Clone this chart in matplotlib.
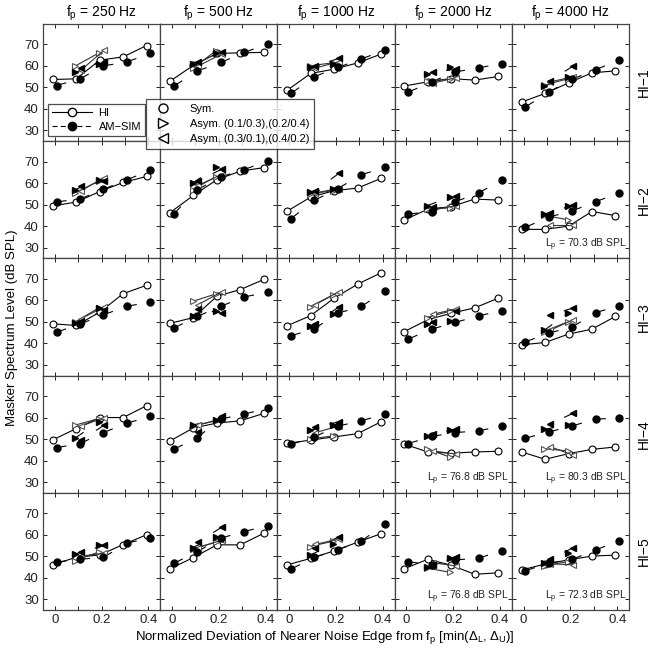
import matplotlib
matplotlib.use('Agg')
import matplotlib.pyplot as plt
from matplotlib.lines import Line2D

plt.rcParams['font.family'] = ['Liberation Sans', 'DejaVu Sans']
plt.rcParams['mathtext.fontset'] = 'custom'
plt.rcParams['mathtext.rm'] = 'Liberation Sans'

# --- data ---
freqs = ['250', '500', '1000', '2000', '4000']
listeners = ['HI\u22121', 'HI\u22122', 'HI\u22123', 'HI\u22124', 'HI\u22125']
x_sym = [0, 0.1, 0.2, 0.3, 0.4]
x_asym = [0.1, 0.2]

# symmetric notches, [listener][frequency] -> 5 values
hi_sym = [
    [[53.7, 54, 62.7, 64.2, 69.5], [52.9, 60.3, 65.8, 66.1, 66.3], [48.7, 56.5, 58.5, 61.4, 65.5], [50.7, 52.6, 54.1, 53.4, 55.1], [43.2, 47.2, 52.1, 56.8, 57.7]],
    [[49.4, 51.2, 56.1, 60.3, 63.1], [46.3, 54.3, 61.6, 65.6, 67.2], [47, 53.5, 56.5, 57.7, 62.2], [42.9, 47.9, 49.1, 52.6, 52.1], [38.5, 38.5, 40, 46.8, 44.9]],
    [[49.1, 48.3, 54.5, 63.1, 67], [49.3, 52, 61.9, 65, 69.7], [48.2, 52.9, 61, 67.5, 72.8], [45.5, 51, 54, 56.5, 61], [39.3, 40.4, 44.3, 46.6, 52.5]],
    [[49.6, 54.9, 60, 60, 65.5], [49.1, 55.2, 57.4, 58.5, 61.9], [48, 49.5, 51, 52.5, 58], [47.6, 44, 43.4, 44, 44.3], [44, 40.6, 43.2, 45.2, 46.3]],
    [[46.1, 49.5, 50.6, 55.4, 60], [44.2, 49.4, 55.3, 55.3, 60.7], [46, 49, 52.5, 56.5, 60.5], [44.2, 48.6, 45.8, 41.6, 42.3], [43.6, 46.4, 48.3, 50.1, 50.5]],
]
am_sym = [
    [[50.9, 54, 60, 61.9, 65.8], [50.6, 57.6, 61.6, 66.3, 70.1], [47.2, 55, 59.3, 63.3, 67.2], [47.8, 52.6, 57.2, 59.1, 61.1], [40.9, 47.9, 53.8, 58.3, 62.7]],
    [[51.3, 52.6, 57.2, 61.6, 65.9], [45.7, 56.9, 62.9, 66.3, 70.3], [43.5, 52, 57.5, 63.9, 67.3], [45.6, 46.8, 51.3, 55.4, 61.6], [39.5, 44.2, 47.1, 51.4, 55.4]],
    [[45.2, 49, 53.3, 57.2, 59.3], [47.1, 52.5, 57.2, 61.6, 63.7], [43.5, 46.8, 54, 57.2, 64.2], [42, 46.6, 49.7, 52.8, 55.2], [40.7, 44.8, 47.6, 54.3, 57.5]],
    [[46, 47.9, 53, 57.4, 60.5], [45.2, 50.7, 59.3, 61.6, 64.3], [47.5, 51, 56, 58.5, 61.5], [47.9, 51.2, 53, 53.8, 56.1], [50.4, 53.3, 56.1, 59.3, 59.7]],
    [[47.3, 48.6, 49.5, 56.1, 58.6], [46.7, 52.1, 58.4, 61.5, 64.2], [44, 49.5, 53, 57, 65], [47.5, 45.9, 48.3, 49.1, 52.5], [43.3, 46.7, 48.6, 52.9, 57.3]],
]

# asymmetric notches, [listener][frequency] -> values at 0.1, 0.2
hi_right = [
    [[60, 66], [59, 67], [60, 61.5], [53, 54], [51, 54]],
    [[55.5, 61], [57, 63], [55, 56.5], [48, 48.5], [45, 43]],
    [[50, 56.5], [59.5, 63], [57, 62.5], [52, 55], [45.5, 50]],
    [[56.5, 59.5], [56, 58.5], [50, 51.5], [45.5, 41.5], [45.5, 44.5]],
    [[48, 52], [53.5, 56.5], [54.5, 57], [44.5, 42.5], [45.5, 47.5]],
]
hi_left = [
    [[58, 67.5], [60, 65.5], [59, 62], [52, 54.5], [52.5, 55]],
    [[56.5, 62.5], [59, 64], [55.5, 57.5], [47.5, 49.5], [40.5, 40.5]],
    [[51.5, 57], [58, 64], [58, 64], [53.5, 56], [46, 51]],
    [[56, 60], [56.5, 59.5], [53, 56], [44.5, 43], [46.5, 42.5]],
    [[50, 51.5], [54, 57.5], [55.5, 58], [47, 45.5], [46.5, 46]],
]
am_right = [
    [[57, 61], [61, 66], [59.5, 61], [56.2, 59.6], [50.5, 55]],
    [[57, 61.5], [60, 67.5], [56, 57.5], [49.5, 53.5], [45.5, 49.5]],
    [[49.5, 56.5], [52.5, 55], [48, 53.5], [49, 50.5], [46, 54]],
    [[50.5, 58], [56.5, 59], [54, 56.5], [51.5, 54], [54.5, 56.5]],
    [[51, 55], [54, 59], [50.5, 55.5], [45, 49], [47, 51.5]],
]
am_left = [
    [[59, 62], [62, 66.5], [60, 63.5], [57, 58.5], [53, 60]],
    [[58.5, 61], [61, 66.5], [56.5, 64.5], [49, 54], [46, 50]],
    [[50.5, 55.5], [56, 54], [49, 57], [50, 55], [53, 56.5]],
    [[49.5, 56.5], [53.5, 60.5], [55.5, 58], [52.5, 54.5], [57, 62]],
    [[52, 55], [56.5, 63.5], [54, 59], [46, 49.5], [48.5, 54]],
]

# probe levels noted in some panels: (listener, frequency) -> text
lp_notes = {(1, 4): '70.3', (3, 3): '76.8', (3, 4): '80.3', (4, 3): '76.8', (4, 4): '72.3'}

DASH = (9, 14)
MS = 5.0
MS_TRI = 4.4
TRI_EDGE = '#555555'


def dashed_segments(ax, xs, ys):
    # restart the dash pattern at every point so a short dash follows each marker
    for i in range(len(xs) - 1):
        ax.plot(xs[i:i + 2], ys[i:i + 2], color='k', lw=0.8, dashes=DASH, zorder=2)


fig, axes = plt.subplots(5, 5, figsize=(6.5, 6.56), dpi=100, sharex=True, sharey=True)
fig.subplots_adjust(left=43 / 650, right=629 / 650, top=1 - 24 / 656, bottom=1 - 610 / 656,
                    wspace=0, hspace=0)

for r in range(5):
    for c in range(5):
        ax = axes[r, c]
        xh = [x - 0.008 for x in x_sym]
        xa = [x + 0.008 for x in x_sym]
        xr = [x - 0.012 for x in x_asym]
        xl = [x + 0.012 for x in x_asym]

        # HI, solid lines
        ax.plot(xh, hi_sym[r][c], color='k', lw=0.8, marker='o', ms=MS, mfc='w', mec='k', mew=0.8, zorder=3)
        ax.plot(xr, hi_right[r][c], color='#333333', lw=0.8, marker='>', ms=MS_TRI, mfc='w', mec=TRI_EDGE, mew=0.8, zorder=3)
        ax.plot(xl, hi_left[r][c], color='#333333', lw=0.8, marker='<', ms=MS_TRI, mfc='w', mec=TRI_EDGE, mew=0.8, zorder=3)

        # AM-SIM, dashed lines
        dashed_segments(ax, xa, am_sym[r][c])
        dashed_segments(ax, xr, am_right[r][c])
        dashed_segments(ax, xl[::-1], am_left[r][c][::-1])
        ax.plot(xa, am_sym[r][c], ls='none', marker='o', ms=MS, mfc='k', mec='k', zorder=4)
        ax.plot(xr, am_right[r][c], ls='none', marker='>', ms=MS_TRI, mfc='k', mec='k', zorder=4)
        ax.plot(xl, am_left[r][c], ls='none', marker='<', ms=MS_TRI, mfc='k', mec='k', zorder=4)

        ax.set_xlim(-0.05, 0.45)
        ax.set_ylim(25, 79.5)
        ax.set_xticks([0, 0.1, 0.2, 0.3, 0.4])
        ax.set_xticklabels(['0', '', '0.2', '', '0.4'])
        ax.set_yticks([30, 40, 50, 60, 70])
        ax.tick_params(direction='in', top=True, right=True, length=3, width=0.7,
                       labelsize=9.5, colors='#222222', pad=3)
        for s in ax.spines.values():
            s.set_color('#444444')
            s.set_linewidth(0.9)

        if (r, c) in lp_notes:
            ax.text(0.44, 27.5, r'$\mathregular{L_p}$ = ' + lp_notes[(r, c)] + ' dB SPL',
                    ha='right', va='bottom', fontsize=7.5, color='#222222')

for c in range(5):
    axes[0, c].set_title(r'$\mathregular{f_p}$ = ' + freqs[c] + ' Hz', fontsize=10, pad=5)
for r in range(5):
    axes[r, 4].text(1.13, 0.5, listeners[r], transform=axes[r, 4].transAxes, rotation=90,
                    ha='center', va='center', fontsize=10)

fig.text(12 / 650, 0.5, 'Masker Spectrum Level (dB SPL)', rotation=90, ha='center', va='center', fontsize=9.5)
fig.text(0.5, 1 - 638 / 656,
         r'Normalized Deviation of Nearer Noise Edge from $\mathregular{f_p}$ [min($\mathregular{\Delta_L,\Delta_U}$)]',
         ha='center', va='center', fontsize=9.5)

# legends
h1 = [Line2D([], [], color='k', lw=0.8, marker='o', ms=MS + 1, mfc='w', mec='k'),
      Line2D([], [], color='k', lw=0.8, dashes=(4.5, 3), marker='o', ms=MS + 1, mfc='k', mec='k')]
leg1 = fig.legend(h1, ['HI', 'AM\u2212SIM'], loc='lower left', bbox_to_anchor=(48 / 650, 1 - 136 / 656),
                  fontsize=8, handlelength=3.6, frameon=True, fancybox=False, edgecolor='#222222',
                  borderpad=0.35, labelspacing=0.35, handletextpad=0.6, borderaxespad=0)
leg1.get_frame().set_linewidth(0.9)

h2 = [Line2D([], [], ls='none', marker='o', ms=MS + 1.5, mfc='w', mec='k'),
      Line2D([], [], ls='none', marker='>', ms=MS + 1.5, mfc='w', mec='k'),
      Line2D([], [], ls='none', marker='<', ms=MS + 1.5, mfc='w', mec='k')]
leg2 = fig.legend(h2, ['Sym.', 'Asym. (0.1/0.3),(0.2/0.4)', 'Asym. (0.3/0.1),(0.4/0.2)'],
                  loc='upper left', bbox_to_anchor=(146 / 650, 1 - 99 / 656),
                  fontsize=8, handlelength=2.2, frameon=True, fancybox=False, edgecolor='#222222',
                  borderpad=0.45, labelspacing=0.45, handletextpad=1.3, borderaxespad=0)
leg2.get_frame().set_linewidth(0.9)

plt.savefig('out.png', dpi=100)
plt.close()
